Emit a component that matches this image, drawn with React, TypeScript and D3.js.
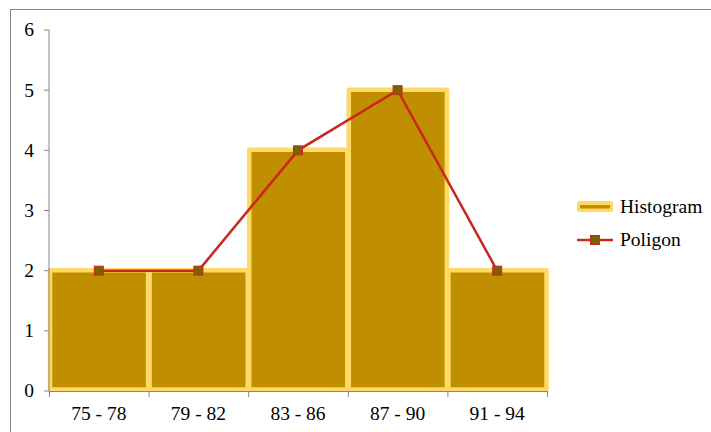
import React from "react";
import * as d3 from "d3";

const categories = ["75 - 78", "79 - 82", "83 - 86", "87 - 90", "91 - 94"];
const histogramValues = [2, 2, 4, 5, 2];
const poligonValues = [2, 2, 4, 5, 2];
const yTicks = [0, 1, 2, 3, 4, 5, 6];

export default function App() {
  const W = 711, H = 432;
  const left = 49, right = 547, top = 30, bottom = 391;
  const x = d3.scaleBand<string>().domain(categories).range([left, right]).padding(0);
  const y = d3.scaleLinear().domain([0, 6]).range([bottom, top]);
  const line = d3.line<number>()
    .x((_, i) => (x(categories[i]) as number) + x.bandwidth() / 2)
    .y((d) => y(d));
  const textStyle: React.CSSProperties = { fontFamily: '"Liberation Serif", "DejaVu Serif", "Times New Roman", serif' };
  const boundaries = categories.map((c) => x(c) as number).concat([right]);
  return (
    <svg width={W} height={H} style={{ position: "absolute", left: 0, top: 0, display: "block" }}>
      <rect x={0} y={0} width={W} height={H} fill="#fff" />
      <rect x={10.5} y={9.5} width={W + 10} height={H + 10} fill="none" stroke="#868686" strokeWidth={1} />
      {histogramValues.map((v, i) => (
        <rect
          key={i}
          x={(x(categories[i]) as number) + 1}
          y={y(v) - 0.5}
          width={x.bandwidth() - 1.5}
          height={bottom - y(v) - 1}
          fill="#BF8F00"
          stroke="#FFD966"
          strokeWidth={4.5}
          strokeLinejoin="round"
        />
      ))}
      <line x1={left} x2={left} y1={top} y2={bottom} stroke="#868686" />
      {yTicks.map((t) => (
        <g key={t}>
          <line x1={left - 5} x2={left} y1={y(t)} y2={y(t)} stroke="#868686" />
          <text x={34} y={y(t)} dy="0.33em" textAnchor="end" style={textStyle} fontSize={19.5} fill="#000">
            {t}
          </text>
        </g>
      ))}
      <line x1={left} x2={right} y1={bottom + 0.5} y2={bottom + 0.5} stroke="#868686" />
      {boundaries.map((b, i) => (
        <line key={i} x1={b + 0.5} x2={b + 0.5} y1={bottom} y2={bottom + 6} stroke="#868686" />
      ))}
      {categories.map((c) => (
        <text key={c} x={(x(c) as number) + x.bandwidth() / 2} y={420} textAnchor="middle" style={textStyle} fontSize={19.5} fill="#000">
          {c}
        </text>
      ))}
      <path d={line(poligonValues) || ""} fill="none" stroke="#C8281E" strokeWidth={2.5} />
      {poligonValues.map((v, i) => (
        <rect
          key={i}
          x={(x(categories[i]) as number) + x.bandwidth() / 2 - 4.5}
          y={y(v) - 4.5}
          width={9}
          height={9}
          fill="#7F6000"
          stroke="#C8281E"
          strokeWidth={1}
        />
      ))}
      <rect x={577} y={201} width={36} height={11} rx={2} fill="#FFD966" />
      <rect x={580} y={205} width={30} height={3.5} fill="#BF8F00" />
      <text x={620} y={207} dy="0.33em" style={textStyle} fontSize={19.5} fill="#000">Histogram</text>
      <line x1={577} x2={613} y1={240} y2={240} stroke="#C8281E" strokeWidth={2.5} />
      <rect x={590.5} y={235.5} width={9} height={9} fill="#7F6000" stroke="#C8281E" strokeWidth={1} />
      <text x={620} y={240} dy="0.33em" style={textStyle} fontSize={19.5} fill="#000">Poligon</text>
    </svg>
  );
}
